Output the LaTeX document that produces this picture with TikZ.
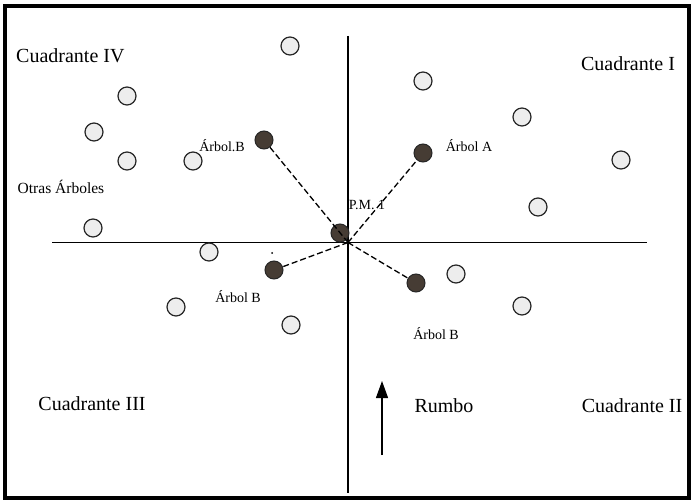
\documentclass[tikz,border=0pt]{standalone}
\usepackage{fontspec}
\setmainfont{Liberation Serif}
\usetikzlibrary{arrows.meta}
\definecolor{darktree}{HTML}{463C34}
\begin{document}
\begin{tikzpicture}[x=1pt,y=-1pt,
  tree/.style={circle,draw=black!85,line width=1.2pt,fill=black!7,minimum size=18pt,inner sep=0pt},
  dtree/.style={circle,draw=black!85,line width=1pt,fill=darktree,minimum size=18pt,inner sep=0pt},
  big/.style={font=\fontsize{20}{22}\selectfont,inner sep=0pt},
  small/.style={font=\fontsize{14}{16}\selectfont,inner sep=0pt},
  link/.style={line width=1.3pt,dash pattern=on 6pt off 3pt}]
\useasboundingbox (0,0) rectangle (693,502);
\draw[line width=3.2pt] (5,6) rectangle (689,498);
% axes
\coordinate (xl) at (52,242.5);
\coordinate (xr) at (647,242.5);
\coordinate (yt) at (348,36);
\coordinate (yb) at (348,493);
\coordinate (o) at (348,242.5);
\draw[line width=1.2pt] (xl) -- (xr);
\draw[line width=1.2pt] (yt) -- (yb);
% light trees
\node[tree] (t1) at (290,46) {};
\node[tree] (t2) at (127,96) {};
\node[tree] (t3) at (94,132) {};
\node[tree] (t4) at (127,161) {};
\node[tree] (t5) at (193,161) {};
\node[tree] (t6) at (93,228) {};
\node[tree] (t7) at (423,81) {};
\node[tree] (t8) at (522,117) {};
\node[tree] (t9) at (621,160) {};
\node[tree] (t10) at (538,207) {};
\node[tree] (t11) at (209,252) {};
\node[tree] (t12) at (176,307) {};
\node[tree] (t13) at (291,325) {};
\node[tree] (t14) at (456,274) {};
\node[tree] (t15) at (522,306) {};
% dark trees
\node[dtree] (pm) at (340,233) {};
\node[dtree] (bul) at (264,140) {};
\node[dtree] (ta) at (423,153) {};
\node[dtree] (bll) at (274,270) {};
\node[dtree] (blr) at (416,283) {};
\fill (272,253) circle (1pt);
% dashed links
\draw[link] (o) -- (bul);
\draw[link] (o) -- (ta);
\draw[link] (o) -- (bll);
\draw[link] (o) -- (blr);
% labels
\node[big,anchor=west] (q4) at (16,56) {Cuadrante IV};
\node[big] (q1) at (628,64) {Cuadrante I};
\node[big] (q3) at (92,404) {Cuadrante III};
\node[big] (q2) at (632,406) {Cuadrante II};
\node[big] (rumbo) at (444,406) {Rumbo};
\node[small] (lb1) at (222,146) {Árbol.B};
\node[small] (la) at (469,146) {Árbol A};
\node[small] (lpm) at (367,205) {P.M. 1};
\node[small,font=\fontsize{15.5}{17}\selectfont] (lo) at (61,187) {Otras Árboles};
\node[small] (lb2) at (238,297) {Árbol B};
\node[small] (lb3) at (436,334) {Árbol B};
% heading arrow
\coordinate (ab) at (382,455);
\coordinate (at) at (382,381);
\draw[line width=1.2pt,-{Triangle[length=17pt,width=12pt]}] (ab) -- (at);
\end{tikzpicture}
\end{document}
